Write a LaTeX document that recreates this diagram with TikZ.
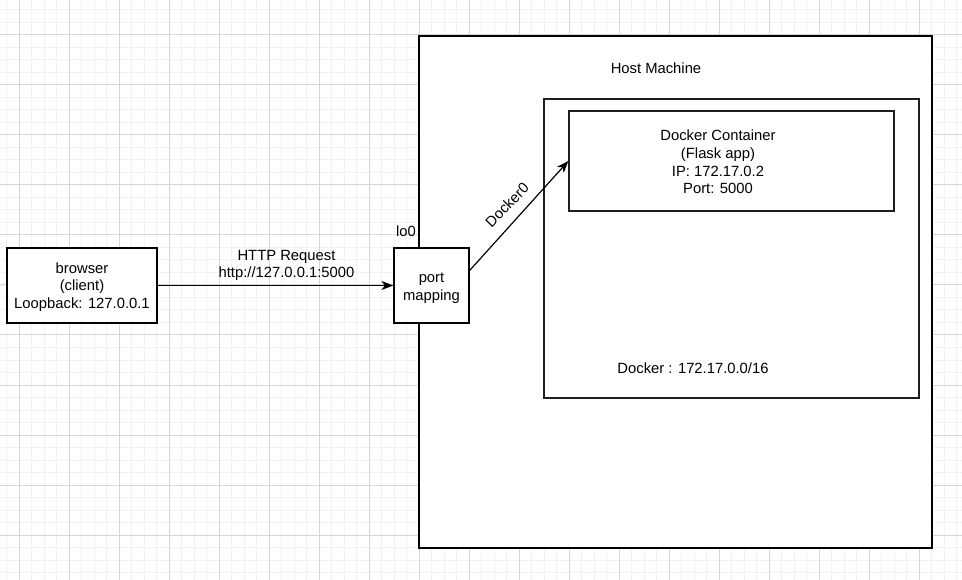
\documentclass[tikz,border=0pt]{standalone}
\usepackage{fontspec}
\setmainfont{Liberation Sans}
\usetikzlibrary{arrows.meta}
\definecolor{minorc}{RGB}{242,242,242}
\definecolor{majorc}{RGB}{214,214,214}
\definecolor{edgec}{RGB}{30,30,30}
\tikzset{
  minorline/.style={draw=minorc, line width=1pt},
  majorline/.style={draw=majorc, line width=1pt},
  box/.style={draw=edgec, line width=1.2pt, fill=white, inner sep=0pt},
  lbl/.style={font=\fontsize{14.8}{17.8}\selectfont, align=center, inner sep=0pt, text=black},
  conn/.style={draw=black, line width=1.2pt, -{Stealth[length=12pt,width=9pt,inset=3.5pt]}}
}
\begin{document}
\begin{tikzpicture}[x=1pt,y=-1pt]
\useasboundingbox (0,0) rectangle (962,580);
\fill[white] (0,0) rectangle (962,580);
% grid
\foreach \i in {0,...,76} { \draw[minorline] ({6.5+12.5*\i},0) -- ++(0,580); }
\foreach \j in {0,...,45} { \draw[minorline] (0,{10+12.5*\j}) -- ++(962,0); }
\foreach \i in {0,...,18} { \draw[majorline] ({19+50*\i},0) -- ++(0,580); }
\foreach \j in {0,...,10} { \draw[majorline] (0,{35+50*\j}) -- ++(962,0); }
% boxes
\node[box, minimum width=513pt, minimum height=512pt, draw=black] (host) at (675.5,292) {};
\node[box, minimum width=375pt, minimum height=299pt] (net) at (731.5,248.5) {};
\node[box, minimum width=325pt, minimum height=100pt] (cont) at (731.5,161) {};
\node[box, minimum width=150pt, minimum height=75pt, draw=black] (browser) at (82,285.5) {};
\node[box, minimum width=75pt, minimum height=75pt, draw=black] (port) at (431.5,285.5) {};
% texts
\node[lbl] (hostlbl) at (656,68) {Host Machine};
\node[lbl] (netlbl) at (693,368) {Docker : 172.17.0.0/16};
\node[lbl] (contlbl) at (718,162) {Docker Container\\(Flask app)\\IP: 172.17.0.2\\Port: 5000};
\node[lbl] (browserlbl) at (82,287) {browser\\(client)\\Loopback: 127.0.0.1};
\node[lbl] (portlbl) at (431.5,288) {port\\mapping};
\node[lbl] (lolbl) at (406,231) {lo0};
% connectors
\draw[conn] (browser.east) -- (port.west)
  node[lbl, midway, above=4pt, xshift=11pt] (httplbl) {HTTP Request\\http://127.0.0.1:5000};
\draw[conn] ([yshift=15pt]port.east) -- (cont.west);
\node[lbl, rotate=46] (dockerzero) at (507,205) {Docker0};
\end{tikzpicture}
\end{document}
